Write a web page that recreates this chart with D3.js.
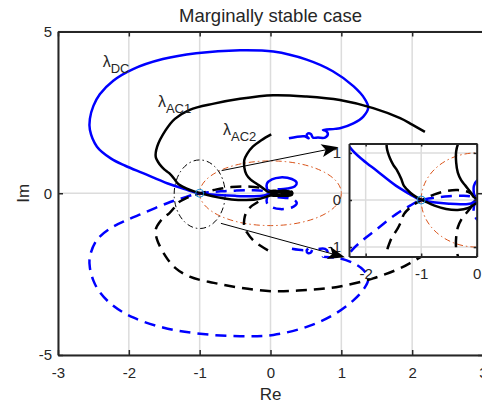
<!DOCTYPE html>
<html>
<head>
<meta charset="utf-8">
<script src="https://cdn.jsdelivr.net/npm/d3@7"></script>
<style>
  body { margin: 0; background: #fff; }
  text { font-family: "Liberation Sans", Arial, Helvetica, sans-serif; fill: #262626; }
</style>
</head>
<body>
<div id="chart"></div>
<script>
// axis limits and ticks
const xDomain = [-3, 3];
const yDomain = [-5, 5];
const xTicks = [-3, -2, -1, 0, 1, 2, 3];
const yTicks = [-5, 0, 5];
const insetXDomain = [-2.3, 0];
const insetYDomain = [-1.2, 1.2];
const insetXTicks = [-2, -1, 0];
const insetYTicks = [-1, 0, 1];

// eigenvalue loci, positive frequencies [Re, Im]; the dashed branch is the conjugate
const lambdaDC = [
  [0.1, 0.12], [0.24, 0.15], [0.34, 0.21], [0.37, 0.32], [0.30, 0.44], [0.14, 0.49], [0.02, 0.43],
  [-0.05, 0.30], [-0.05, 0.14], [-0.02, 0.0], [-0.1, -0.07], [-0.27, -0.09], [-0.5, -0.08],
  [-0.69, -0.06], [-0.87, -0.03], [-1.03, 0.01], [-1.2, 0.12], [-1.45, 0.3], [-1.8, 0.62],
  [-2.05, 0.85], [-2.25, 1.07], [-2.45, 1.44], [-2.55, 1.96], [-2.55, 2.3], [-2.5, 2.7],
  [-2.41, 3.06], [-2.22, 3.48], [-1.94, 3.84], [-1.52, 4.15], [-1.05, 4.33], [-0.43, 4.42],
  [0.04, 4.38], [0.51, 4.13], [0.88, 3.77], [1.17, 3.31], [1.33, 2.92], [1.38, 2.65],
  [1.31, 2.37], [1.17, 2.16], [0.98, 2.01], [0.91, 1.99], [0.74, 1.96], [0.78, 1.93],
  [0.81, 1.83], [0.77, 1.72], [0.67, 1.72], [0.60, 1.72], [0.57, 1.83], [0.53, 1.85],
  [0.51, 1.77], [0.54, 1.70], [0.48, 1.76], [0.26, 1.70]
];
const lambdaAC1 = [
  [0.2, 0.02], [0.3, 0.04], [0.3, -0.04], [0.16, -0.07], [0.06, -0.02], [0.12, 0.05],
  [0.24, 0.05], [0.22, -0.05], [0.08, -0.08], [0, -0.07], [-0.15, -0.17], [-0.34, -0.21],
  [-0.55, -0.19], [-0.76, -0.12], [-0.93, -0.03], [-1.07, 0.05], [-1.19, 0.15], [-1.31, 0.3],
  [-1.36, 0.45], [-1.43, 0.62], [-1.5, 0.74], [-1.56, 0.88], [-1.62, 1.12], [-1.6, 1.44],
  [-1.48, 1.95], [-1.35, 2.3], [-1.14, 2.58], [-0.8, 2.77], [-0.43, 2.92], [0.04, 3.03],
  [0.51, 2.99], [0.98, 2.88], [1.45, 2.63], [1.83, 2.32], [2.0, 2.12], [2.18, 1.9]
];
const lambdaAC2 = [
  [0.2, -0.02], [0.28, 0.03], [0.22, 0.07], [0.1, 0.05], [0.05, -0.03], [0.15, -0.08],
  [0.26, -0.04], [0.12, 0.02], [0.02, 0.02], [-0.05, 0.06], [-0.1, 0.15], [-0.2, 0.3],
  [-0.28, 0.42], [-0.34, 0.58], [-0.37, 0.8], [-0.37, 1.03], [-0.33, 1.22], [-0.25, 1.44],
  [-0.13, 1.64], [0.01, 1.82]
];

// critical point, unit circle, zoom ellipse around -1
const criticalPoint = [-1, 0];
const unitCircle = { cx: 0, cy: 0, rx: 1, ry: 1 };
const zoomEllipse = { cx: -1, cy: -0.03, rx: 0.36, ry: 1.06 };

// annotations in main-axes data units
const lociLabels = [
  { name: "DC", at: [-2.37, 3.9] },
  { name: "AC1", at: [-1.59, 2.67] },
  { name: "AC2", at: [-0.67, 1.8] }
];
const zoomArrows = [
  { from: [-0.69, 0.70], to: [0.96, 1.42] },
  { from: [-0.70, -0.93], to: [1.05, -1.98] }
];

const W = 482, H = 409;
const svg = d3.select("#chart").append("svg").attr("width", W).attr("height", H);

// main axes
const x = d3.scaleLinear().domain(xDomain).range([58, 483]);
const y = d3.scaleLinear().domain(yDomain).range([355, 31.5]);
// inset axes
const xi = d3.scaleLinear().domain(insetXDomain).range([349, 476.7]);
const yi = d3.scaleLinear().domain(insetYDomain).range([256.5, 143.5]);

const curves = [
  { pts: lambdaDC, color: "#0000ff" },
  { pts: lambdaAC1, color: "#000000" },
  { pts: lambdaAC2, color: "#000000" }
];

function drawPanel(g, sx, sy, id, xt, yt, tickLen, magnifier) {
  const [l, r] = sx.range();
  const [b, t] = sy.range();

  g.append("rect").attr("x", l).attr("y", t).attr("width", r - l).attr("height", b - t)
    .attr("fill", "#fff");
  g.append("clipPath").attr("id", id).append("rect")
    .attr("x", l).attr("y", t).attr("width", r - l).attr("height", b - t);

  // grid
  g.append("g").selectAll("line").data(xt).join("line")
    .attr("x1", d => sx(d)).attr("x2", d => sx(d)).attr("y1", t).attr("y2", b)
    .attr("stroke", "#dcdcdc").attr("stroke-width", 1.5);
  g.append("g").selectAll("line").data(yt).join("line")
    .attr("y1", d => sy(d)).attr("y2", d => sy(d)).attr("x1", l).attr("x2", r)
    .attr("stroke", "#dcdcdc").attr("stroke-width", 1.5);

  const body = g.append("g").attr("clip-path", `url(#${id})`);
  const line = d3.line().x(d => sx(d[0])).y(d => sy(d[1]))
    .curve(d3.curveCatmullRom.alpha(0.5));

  // unit circle
  body.append("ellipse")
    .attr("cx", sx(unitCircle.cx)).attr("cy", sy(unitCircle.cy))
    .attr("rx", sx(unitCircle.rx) - sx(0)).attr("ry", sy(0) - sy(unitCircle.ry))
    .attr("fill", "none").attr("stroke", "#d95319").attr("stroke-width", 1)
    .attr("stroke-dasharray", "6,3,1.5,3");

  if (magnifier) {
    body.append("ellipse")
      .attr("cx", sx(zoomEllipse.cx)).attr("cy", sy(zoomEllipse.cy))
      .attr("rx", sx(zoomEllipse.rx) - sx(0)).attr("ry", sy(0) - sy(zoomEllipse.ry))
      .attr("fill", "none").attr("stroke", "#000").attr("stroke-width", 1)
      .attr("stroke-dasharray", "6,3,1.5,3");
  }

  curves.forEach(c => {
    body.append("path").datum(c.pts.map(([re, im]) => [re, -im]))
      .attr("d", line).attr("fill", "none").attr("stroke", c.color)
      .attr("stroke-width", 2.5).attr("stroke-dasharray", "11,7");
  });
  curves.forEach(c => {
    body.append("path").datum(c.pts)
      .attr("d", line).attr("fill", "none").attr("stroke", c.color)
      .attr("stroke-width", 2.5).attr("stroke-linejoin", "round");
  });

  body.append("circle")
    .attr("cx", sx(criticalPoint[0])).attr("cy", sy(criticalPoint[1])).attr("r", 4)
    .attr("fill", "none").attr("stroke", "#1a8fd6").attr("stroke-width", 1);

  // axes, ticks inside as in MATLAB
  const fmt = d => String(d);
  const style = sel => {
    sel.attr("color", "#262626").attr("font-size", 15)
      .attr("font-family", '"Liberation Sans", Arial, Helvetica, sans-serif');
    sel.select(".domain").attr("stroke-width", 2);
    sel.selectAll(".tick line").attr("stroke-width", 1.5);
  };
  g.append("g").attr("transform", `translate(0,${b})`)
    .call(d3.axisBottom(sx).tickValues(xt).tickFormat(fmt)
      .tickSizeInner(-tickLen).tickSizeOuter(0).tickPadding(12))
    .call(style);
  g.append("g").attr("transform", `translate(0,${t})`)
    .call(d3.axisTop(sx).tickValues(xt).tickFormat("")
      .tickSizeInner(-tickLen).tickSizeOuter(0))
    .call(style);
  g.append("g").attr("transform", `translate(${l},0)`)
    .call(d3.axisLeft(sy).tickValues(yt).tickFormat(fmt)
      .tickSizeInner(-tickLen).tickSizeOuter(0).tickPadding(magnifier ? 6 : 8))
    .call(style);
  g.append("g").attr("transform", `translate(${r},0)`)
    .call(d3.axisRight(sy).tickValues(yt).tickFormat("")
      .tickSizeInner(-tickLen).tickSizeOuter(0))
    .call(style);
}

drawPanel(svg.append("g"), x, y, "clipMain", xTicks, yTicks, 5, true);

// locus labels
lociLabels.forEach(d => {
  const tx = svg.append("text").attr("x", x(d.at[0])).attr("y", y(d.at[1]))
    .attr("font-size", 16);
  tx.append("tspan").text("λ");
  tx.append("tspan").attr("dy", 6).attr("font-size", 13).text(d.name);
});

drawPanel(svg.append("g"), xi, yi, "clipInset", insetXTicks, insetYTicks, 3, false);

// zoom arrows
zoomArrows.forEach(a => {
  const x0 = x(a.from[0]), y0 = y(a.from[1]);
  const x1 = x(a.to[0]), y1 = y(a.to[1]);
  const ang = Math.atan2(y1 - y0, x1 - x0);
  const len = 17, half = 6.5, back = 4;
  svg.append("line").attr("x1", x0).attr("y1", y0)
    .attr("x2", x1 - Math.cos(ang) * 10).attr("y2", y1 - Math.sin(ang) * 10)
    .attr("stroke", "#000").attr("stroke-width", 1);
  const head = [[0, 0], [-len, -half], [-len + back, 0], [-len, half]];
  svg.append("path")
    .attr("d", "M" + head.map(p => p.join(",")).join("L") + "Z")
    .attr("transform", `translate(${x1},${y1}) rotate(${ang * 180 / Math.PI})`)
    .attr("fill", "#000");
});

// title and axis labels
svg.append("text").attr("x", x(0)).attr("y", 21.5).attr("text-anchor", "middle")
  .attr("font-size", 18.5).text("Marginally stable case");
svg.append("text").attr("x", x(0)).attr("y", 400).attr("text-anchor", "middle")
  .attr("font-size", 17).text("Re");
svg.append("text").attr("transform", `translate(28.5,${y(0)}) rotate(-90)`)
  .attr("text-anchor", "middle").attr("font-size", 17).text("Im");
</script>
</body>
</html>
